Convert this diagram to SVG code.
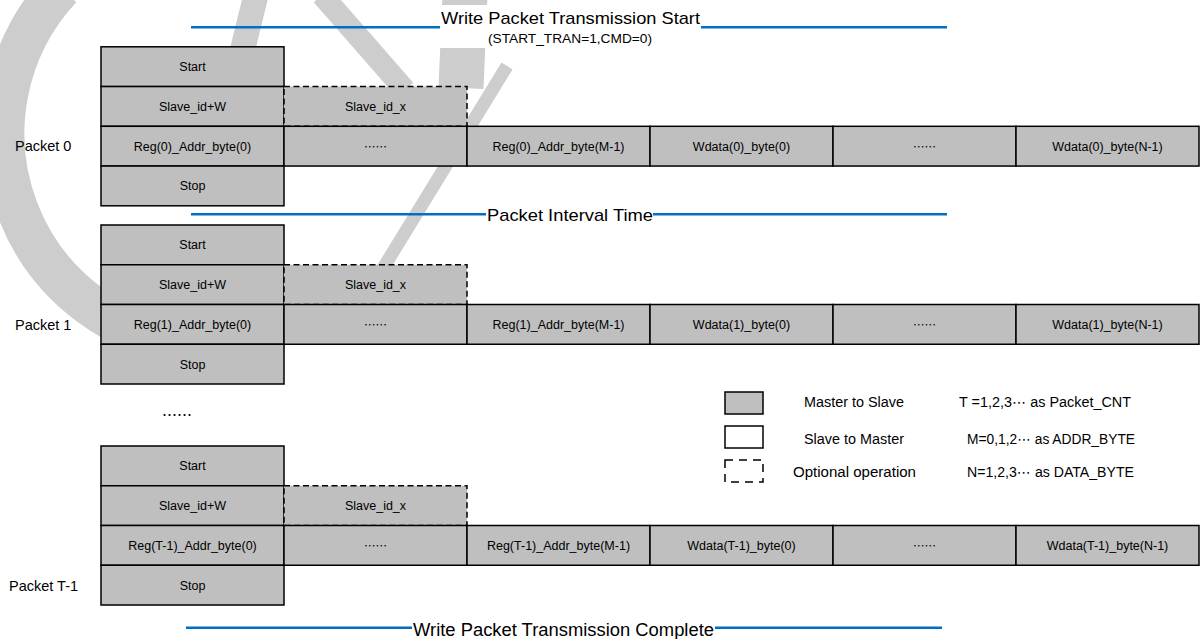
<svg xmlns="http://www.w3.org/2000/svg" width="1200" height="639" viewBox="0 0 1200 639">
<style>
.wm{fill:none;stroke:#cdcdcd;stroke-linecap:butt}
.bl{stroke:#0070c0;stroke-width:2.5;fill:none}
.m{fill:#bfbfbf;stroke:#000;stroke-width:1.5}
.o{fill:#bfbfbf;stroke:#000;stroke-width:1.5;stroke-dasharray:6 3.5}
.t{font-family:"Liberation Sans",Arial,sans-serif;font-size:12.5px;text-anchor:middle;fill:#000}
.d{font-family:"Noto Sans CJK SC",sans-serif;font-size:11.5px;text-anchor:middle;fill:#000}
.lb{font-family:"Liberation Sans",Arial,sans-serif;font-size:14.5px;fill:#000}
.hd{font-family:"Liberation Sans",Arial,sans-serif;font-size:17px;fill:#000}
.lg{font-family:"Liberation Sans","DejaVu Sans",sans-serif;font-size:14px;fill:#000}
</style>

<g id="watermark">
  <path class="wm" stroke-width="42" d="M 61 -12 A 213 213 0 0 0 200 346"/>
  <line class="wm" stroke-width="25" x1="256" y1="-5" x2="240" y2="60"/>
  <line class="wm" stroke-width="22" x1="322" y1="-5" x2="405" y2="90"/>
  <line class="wm" stroke-width="45" x1="465" y1="-5" x2="461" y2="88"/>
  <line class="wm" stroke-width="13" x1="507" y1="66" x2="382" y2="270"/>
  <rect x="439" y="5" width="263" height="43" fill="#fff"/>
</g>

<g id="title-start">
  <line class="bl" x1="191" y1="27.3" x2="440" y2="27.3"/>
  <line class="bl" x1="701" y1="27.3" x2="947" y2="27.3"/>
  <text class="hd" x="441" y="24" textLength="259" lengthAdjust="spacingAndGlyphs">Write Packet Transmission Start</text>
  <text class="hd" x="488" y="43.3" style="font-size:13.5px" textLength="164" lengthAdjust="spacingAndGlyphs">(START_TRAN=1,CMD=0)</text>
</g>

<g id="packet0">
  <text class="lb" x="15" y="150.5">Packet 0</text>
  <rect class="m" x="101" y="46.8" width="183" height="39.75"/>
  <rect class="m" x="101" y="86.55" width="183" height="39.75"/>
  <rect class="o" x="284" y="86.55" width="183" height="39.75"/>
  <rect class="m" x="101" y="126.3" width="183" height="39.75"/>
  <rect class="m" x="284" y="126.3" width="183" height="39.75"/>
  <rect class="m" x="467" y="126.3" width="183" height="39.75"/>
  <rect class="m" x="650" y="126.3" width="183" height="39.75"/>
  <rect class="m" x="833" y="126.3" width="183" height="39.75"/>
  <rect class="m" x="1016" y="126.3" width="183" height="39.75"/>
  <rect class="m" x="101" y="166.05" width="183" height="39.75"/>
  <text class="t" x="192.5" y="71.2">Start</text>
  <text class="t" x="192.5" y="110.95">Slave_id+W</text>
  <text class="t" x="375.5" y="110.95">Slave_id_x</text>
  <text class="t" x="192.5" y="150.7">Reg(0)_Addr_byte(0)</text>
  <text class="d" x="375.5" y="150.5">……</text>
  <text class="t" x="558.5" y="150.7">Reg(0)_Addr_byte(M-1)</text>
  <text class="t" x="741.5" y="150.7">Wdata(0)_byte(0)</text>
  <text class="d" x="924.5" y="150.5">……</text>
  <text class="t" x="1107.5" y="150.7">Wdata(0)_byte(N-1)</text>
  <text class="t" x="192.5" y="190.45">Stop</text>
</g>

<g id="interval">
  <line class="bl" x1="191" y1="214.3" x2="486" y2="214.3"/>
  <line class="bl" x1="653" y1="214.3" x2="947" y2="214.3"/>
  <text class="hd" x="487" y="220.5" textLength="166" lengthAdjust="spacingAndGlyphs">Packet Interval Time</text>
</g>

<g id="packet1">
  <text class="lb" x="15" y="329.5">Packet 1</text>
  <rect class="m" x="101" y="225" width="183" height="39.75"/>
  <rect class="m" x="101" y="264.75" width="183" height="39.75"/>
  <rect class="o" x="284" y="264.75" width="183" height="39.75"/>
  <rect class="m" x="101" y="304.5" width="183" height="39.75"/>
  <rect class="m" x="284" y="304.5" width="183" height="39.75"/>
  <rect class="m" x="467" y="304.5" width="183" height="39.75"/>
  <rect class="m" x="650" y="304.5" width="183" height="39.75"/>
  <rect class="m" x="833" y="304.5" width="183" height="39.75"/>
  <rect class="m" x="1016" y="304.5" width="183" height="39.75"/>
  <rect class="m" x="101" y="344.25" width="183" height="39.75"/>
  <text class="t" x="192.5" y="249.4">Start</text>
  <text class="t" x="192.5" y="289.15">Slave_id+W</text>
  <text class="t" x="375.5" y="289.15">Slave_id_x</text>
  <text class="t" x="192.5" y="328.9">Reg(1)_Addr_byte(0)</text>
  <text class="d" x="375.5" y="328.7">……</text>
  <text class="t" x="558.5" y="328.9">Reg(1)_Addr_byte(M-1)</text>
  <text class="t" x="741.5" y="328.9">Wdata(1)_byte(0)</text>
  <text class="d" x="924.5" y="328.7">……</text>
  <text class="t" x="1107.5" y="328.9">Wdata(1)_byte(N-1)</text>
  <text class="t" x="192.5" y="368.65">Stop</text>
</g>

<g id="ellipsis">
  <text class="d" x="177" y="420.7" style="font-size:15px">……</text>
</g>

<g id="packetT1">
  <text class="lb" x="9" y="590.5">Packet T-1</text>
  <rect class="m" x="101" y="446" width="183" height="39.75"/>
  <rect class="m" x="101" y="485.75" width="183" height="39.75"/>
  <rect class="o" x="284" y="485.75" width="183" height="39.75"/>
  <rect class="m" x="101" y="525.5" width="183" height="39.75"/>
  <rect class="m" x="284" y="525.5" width="183" height="39.75"/>
  <rect class="m" x="467" y="525.5" width="183" height="39.75"/>
  <rect class="m" x="650" y="525.5" width="183" height="39.75"/>
  <rect class="m" x="833" y="525.5" width="183" height="39.75"/>
  <rect class="m" x="1016" y="525.5" width="183" height="39.75"/>
  <rect class="m" x="101" y="565.25" width="183" height="39.75"/>
  <text class="t" x="192.5" y="470.4">Start</text>
  <text class="t" x="192.5" y="510.15">Slave_id+W</text>
  <text class="t" x="375.5" y="510.15">Slave_id_x</text>
  <text class="t" x="192.5" y="549.9">Reg(T-1)_Addr_byte(0)</text>
  <text class="d" x="375.5" y="549.7">……</text>
  <text class="t" x="558.5" y="549.9">Reg(T-1)_Addr_byte(M-1)</text>
  <text class="t" x="741.5" y="549.9">Wdata(T-1)_byte(0)</text>
  <text class="d" x="924.5" y="549.7">……</text>
  <text class="t" x="1107.5" y="549.9">Wdata(T-1)_byte(N-1)</text>
  <text class="t" x="192.5" y="589.65">Stop</text>
</g>

<g id="title-complete">
  <line class="bl" x1="186" y1="627.8" x2="412" y2="627.8"/>
  <line class="bl" x1="715" y1="627.8" x2="942" y2="627.8"/>
  <text class="hd" x="413" y="635.5" style="font-size:17.5px" textLength="301" lengthAdjust="spacingAndGlyphs">Write Packet Transmission Complete</text>
</g>

<g id="legend">
  <rect class="m" x="725" y="392" width="38" height="22"/>
  <rect x="725" y="426" width="38" height="22" fill="#fff" stroke="#000" stroke-width="1.5"/>
  <rect x="725" y="460" width="38" height="22" fill="#fff" stroke="#000" stroke-width="1.5" stroke-dasharray="8 6"/>
  <text class="lg" x="804" y="406.5" textLength="100" lengthAdjust="spacingAndGlyphs">Master to Slave</text>
  <text class="lg" x="804" y="443.5" textLength="100" lengthAdjust="spacingAndGlyphs">Slave to Master</text>
  <text class="lg" x="793" y="476.5" textLength="123" lengthAdjust="spacingAndGlyphs">Optional operation</text>
  <text class="lg" x="959" y="406.5" textLength="172" lengthAdjust="spacingAndGlyphs">T =1,2,3⋯ as Packet_CNT</text>
  <text class="lg" x="967" y="443.5" textLength="168" lengthAdjust="spacingAndGlyphs">M=0,1,2⋯ as ADDR_BYTE</text>
  <text class="lg" x="967" y="477" textLength="167" lengthAdjust="spacingAndGlyphs">N=1,2,3⋯ as DATA_BYTE</text>
</g>
</svg>
